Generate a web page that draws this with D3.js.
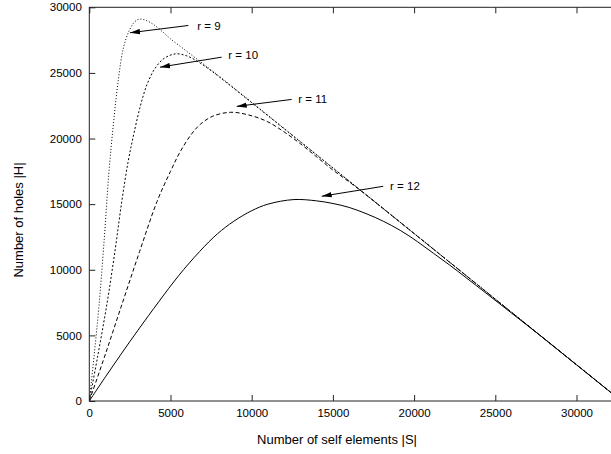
<!DOCTYPE html>
<html>
<head>
<meta charset="utf-8">
<script src="https://cdn.jsdelivr.net/npm/d3@7"></script>
<style>
  body { margin: 0; background: #fff; }
  svg { display: block; font-family: "Liberation Sans", Arial, Helvetica, sans-serif; }
</style>
</head>
<body>
<div id="plot"></div>
<script>
// values: |S| (self elements) vs |H| (holes)
var s9  = [0, 300, 600, 900, 1200, 1500, 1800, 2100, 2450, 2800, 3100, 3500, 4000, 4500, 5000, 6000, 7000, 8000, 10000, 12000, 15000, 20000, 25000, 30000, 32768];
var h9  = [0, 3500, 7300, 12000, 17300, 21300, 24600, 26900, 28200, 28900, 29100, 29000, 28650, 28150, 27600, 26650, 25700, 24750, 22770, 20770, 17770, 12770, 7770, 2770, 0];

var s10 = [0, 500, 1100, 1600, 2000, 2400, 2750, 3150, 3550, 4050, 4600, 5300, 6000, 6700, 7300, 8000, 10000, 15000, 20000, 25000, 30000, 32768];
var h10 = [0, 3300, 7500, 11600, 15200, 18300, 20400, 22500, 24100, 25350, 26100, 26450, 26300, 25850, 25350, 24700, 22730, 17750, 12760, 7760, 2760, 0];

var s11 = [0, 1000, 2100, 3100, 4170, 5000, 5600, 6300, 6850, 7600, 8700, 9800, 10950, 12000, 13000, 14000, 15000, 16000, 17000, 20000, 25000, 30000, 32768];
var h11 = [0, 3600, 7700, 11400, 15200, 17500, 19000, 20350, 21100, 21700, 22000, 21800, 21300, 20500, 19600, 18600, 17600, 16700, 15750, 12760, 7760, 2760, 0];

var s12 = [0, 1000, 2000, 3000, 4300, 5500, 6800, 7900, 8900, 10000, 11000, 12600, 14000, 15000, 16000, 17100, 18100, 19150, 20200, 21200, 22200, 23200, 24500, 26000, 27800, 30000, 32768];
var h12 = [0, 1850, 3650, 5400, 7600, 9550, 11400, 12750, 13700, 14500, 15000, 15350, 15250, 15050, 14750, 14250, 13700, 13000, 12150, 11250, 10350, 9400, 8150, 6700, 4950, 2760, 0];

var xTicks = [0, 5000, 10000, 15000, 20000, 25000, 30000];
var yTicks = [0, 5000, 10000, 15000, 20000, 25000, 30000];

// annotation: label, label position, arrow tail, arrow head (data units)
var labels = ["r = 9", "r = 10", "r = 11", "r = 12"];
var labelAt = [[6650, 28540], [8560, 26390], [12870, 22980], [18520, 16360]];
var arrowFrom = [[6100, 28615], [8150, 26200], [12460, 22980], [18100, 16360]];
var arrowTo = [[2506, 28060], [4353, 25440], [9076, 22450], [14310, 15600]];

var series = [
  {x: s9, y: h9, dash: "1,2"},
  {x: s10, y: h10, dash: "2,2"},
  {x: s11, y: h11, dash: "4,2.5"},
  {x: s12, y: h12, dash: null}
];

drawChart();

function drawChart() {
  var width = 611, height = 454;
  var padLeft = 89.3, padTop = 7.3, padBottom = 401;
  var padRight = padLeft + 32768 * 81.2 / 5000;

  var svg = d3.select("#plot").append("svg").attr("width", width).attr("height", height);

  var xScale = d3.scaleLinear().domain([0, 32768]).range([padLeft, padRight]);
  var yScale = d3.scaleLinear().domain([0, 30000]).range([padBottom, padTop]);

  svg.append("clipPath").attr("id", "clip")
    .append("rect").attr("x", padLeft).attr("y", padTop)
    .attr("width", padRight - padLeft).attr("height", padBottom - padTop);

  // curves
  var line = d3.line()
    .x(function(d) { return xScale(d[0]); })
    .y(function(d) { return yScale(d[1]); })
    .curve(d3.curveCatmullRom.alpha(0.5));

  series.forEach(function(s) {
    var pts = s.x.map(function(v, i) { return [v, s.y[i]]; });
    svg.append("path")
      .attr("clip-path", "url(#clip)")
      .attr("d", line(pts))
      .attr("fill", "none")
      .attr("stroke", "#000")
      .attr("stroke-width", 1)
      .attr("stroke-dasharray", s.dash);
  });

  // axes (gnuplot style, ticks inward)
  var gx = svg.append("g")
    .attr("transform", "translate(0," + padBottom + ")")
    .call(d3.axisBottom(xScale).tickValues(xTicks).tickSizeInner(-6).tickSizeOuter(0).tickPadding(8).tickFormat(d3.format("d")));
  var gxt = svg.append("g")
    .attr("transform", "translate(0," + padTop + ")")
    .call(d3.axisTop(xScale).tickValues(xTicks).tickSizeInner(-6).tickSizeOuter(0).tickFormat(""));
  var gy = svg.append("g")
    .attr("transform", "translate(" + padLeft + ",0)")
    .call(d3.axisLeft(yScale).tickValues(yTicks).tickSizeInner(-6).tickSizeOuter(0).tickPadding(7.5).tickFormat(d3.format("d")));

  [gx, gxt, gy].forEach(function(g) {
    g.select(".domain").remove();
    g.selectAll("line").attr("stroke", "#222");
    g.selectAll("text").attr("font-size", "11.5px").attr("fill", "#000")
      .attr("font-family", "'Liberation Sans', Arial, Helvetica, sans-serif");
  });

  // frame
  svg.append("rect")
    .attr("x", padLeft).attr("y", padTop)
    .attr("width", padRight - padLeft).attr("height", padBottom - padTop)
    .attr("fill", "none").attr("stroke", "#222").attr("stroke-width", 1);

  // arrows
  svg.append("defs").append("marker")
    .attr("id", "head")
    .attr("markerUnits", "userSpaceOnUse")
    .attr("viewBox", "0 0 10 6")
    .attr("refX", 10).attr("refY", 3)
    .attr("markerWidth", 10).attr("markerHeight", 6)
    .attr("orient", "auto")
    .append("path").attr("d", "M0,0.3 L10,3 L0,5.7 Z").attr("fill", "#000");

  labels.forEach(function(t, i) {
    svg.append("line")
      .attr("x1", xScale(arrowFrom[i][0])).attr("y1", yScale(arrowFrom[i][1]))
      .attr("x2", xScale(arrowTo[i][0])).attr("y2", yScale(arrowTo[i][1]))
      .attr("stroke", "#000").attr("stroke-width", 1)
      .attr("marker-end", "url(#head)");
    svg.append("text")
      .attr("x", xScale(labelAt[i][0])).attr("y", yScale(labelAt[i][1]))
      .attr("dy", "0.35em")
      .attr("font-size", "11.5px")
      .text(t);
  });

  // axis titles
  svg.append("text")
    .attr("x", 337).attr("y", 444)
    .attr("text-anchor", "middle")
    .attr("font-size", "13px")
    .text("Number of self elements |S|");

  svg.append("text")
    .attr("transform", "translate(23,220) rotate(-90)")
    .attr("text-anchor", "middle")
    .attr("font-size", "13px")
    .text("Number of holes |H|");
}
</script>
</body>
</html>
